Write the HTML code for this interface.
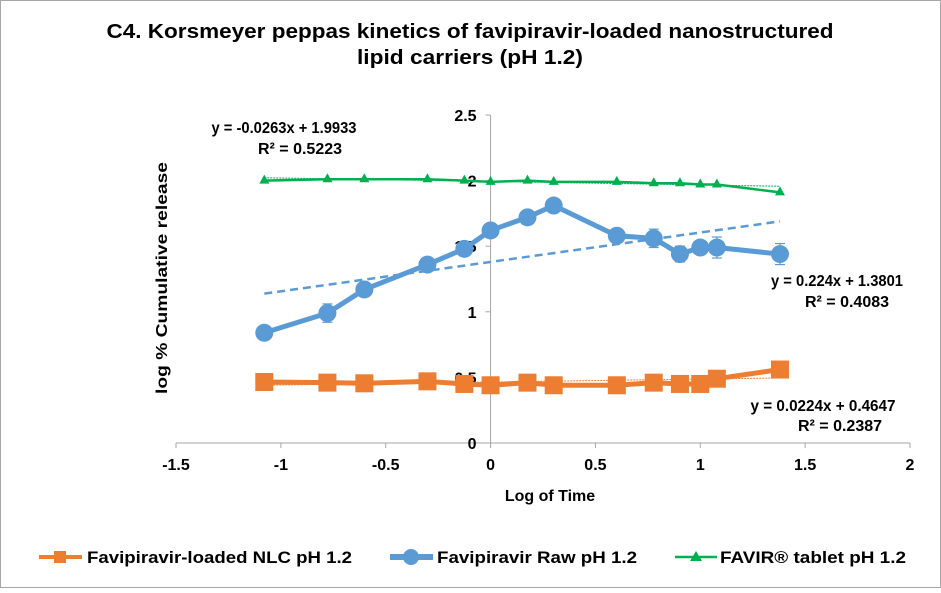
<!DOCTYPE html>
<html><head><meta charset="utf-8"><style>
body{margin:0;background:#fff}
svg text{font-family:"Liberation Sans",Arial,sans-serif;font-weight:bold}
</style></head><body>
<svg id="chart" width="941" height="588" viewBox="0 0 941 588" xmlns="http://www.w3.org/2000/svg">
<rect x="0.5" y="0.5" width="940" height="587" fill="#fff" stroke="#a6a6a6"/>
<text x="470" y="38" font-size="20" text-anchor="middle" textLength="727" lengthAdjust="spacingAndGlyphs">C4. Korsmeyer peppas kinetics of favipiravir-loaded nanostructured</text>
<text x="470" y="64" font-size="20" text-anchor="middle" textLength="226" lengthAdjust="spacingAndGlyphs">lipid carriers (pH 1.2)</text>
<g id="axes"></g>
<g id="marks"></g>
<text x="550" y="501" font-size="16" text-anchor="middle">Log of Time</text>
<text transform="translate(167,278) rotate(-90)" font-size="16" text-anchor="middle" textLength="232" lengthAdjust="spacingAndGlyphs">log % Cumulative release</text>
<g><text x="284" y="133" font-size="16" text-anchor="middle" textLength="145" lengthAdjust="spacingAndGlyphs">y = -0.0263x + 1.9933</text><text x="300" y="154" font-size="16" text-anchor="middle">R² = 0.5223</text></g>
<g><text x="837" y="286" font-size="16" text-anchor="middle" textLength="132" lengthAdjust="spacingAndGlyphs">y = 0.224x + 1.3801</text><text x="847" y="307" font-size="16" text-anchor="middle">R² = 0.4083</text></g>
<g><text x="823" y="411" font-size="16" text-anchor="middle" textLength="145" lengthAdjust="spacingAndGlyphs">y = 0.0224x + 0.4647</text><text x="840" y="431" font-size="16" text-anchor="middle">R² = 0.2387</text></g>
<g>
<g><line x1="39" y1="557" x2="82" y2="557" stroke="#ed7d31" stroke-width="4"/><rect x="54" y="551" width="12" height="12" fill="#ed7d31"/><text x="87" y="563" font-size="17" textLength="265" lengthAdjust="spacingAndGlyphs">Favipiravir-loaded NLC pH 1.2</text></g>
<g><line x1="390" y1="557" x2="433" y2="557" stroke="#5b9bd5" stroke-width="6"/><circle cx="411" cy="557" r="8" fill="#5b9bd5"/><text x="437" y="563" font-size="17" textLength="200" lengthAdjust="spacingAndGlyphs">Favipiravir Raw pH 1.2</text></g>
<g><line x1="675" y1="557" x2="717" y2="557" stroke="#00b050" stroke-width="2.5"/><polygon points="696,551 702,561 690,561" fill="#00b050"/><text x="720" y="563" font-size="17" textLength="186" lengthAdjust="spacingAndGlyphs">FAVIR® tablet pH 1.2</text></g>
</g>
</svg>
<script>
const xTicks=[-1.5,-1,-0.5,0,0.5,1,1.5,2];
const yTicks=[0,0.5,1,1.5,2,2.5];
const logTime=[-1.079,-0.778,-0.602,-0.301,-0.125,0,0.176,0.301,0.602,0.778,0.903,1,1.079,1.380];
const nlcVals=[0.465,0.46,0.455,0.47,0.45,0.44,0.46,0.44,0.44,0.46,0.45,0.45,0.49,0.56];
const rawVals=[0.84,0.99,1.17,1.36,1.48,1.62,1.72,1.81,1.58,1.56,1.44,1.49,1.49,1.44];
const rawErr=[0,0.07,0,0,0,0,0,0,0,0.07,0.06,0,0.08,0.08];
const favirVals=[2.0,2.01,2.01,2.01,2.0,1.99,2.0,1.99,1.99,1.98,1.98,1.97,1.97,1.91];
const trendBlue=[0.224,1.3801];
const trendGreen=[-0.0263,1.9933];
const trendOrange=[0.0224,0.4647];
const X=v=>176+(v+1.5)*(734/3.5);
const Y=v=>443-v*131.2;
const NS='http://www.w3.org/2000/svg';
function mk(tag,attrs,parent){const e=document.createElementNS(NS,tag);for(const k in attrs)e.setAttribute(k,attrs[k]);parent.appendChild(e);return e;}
const axes=document.getElementById('axes'),marks=document.getElementById('marks');
const xa=mk('line',{x1:X(-1.5),y1:Y(0),x2:X(2),y2:Y(0),stroke:'#a6a6a6'},axes);


const ya=mk('line',{x1:X(0),y1:Y(0),x2:X(0),y2:Y(2.5),stroke:'#a6a6a6'},axes);


xTicks.forEach(t=>{mk('line',{x1:X(t),y1:443,x2:X(t),y2:448,stroke:'#a6a6a6'},axes);
const tx=mk('text',{x:X(t),y:470,'font-size':16,'text-anchor':'middle'},axes);tx.textContent=t;

});
yTicks.forEach(t=>{mk('line',{x1:X(0)-5,y1:Y(t),x2:X(0),y2:Y(t),stroke:'#a6a6a6'},axes);
const tx=mk('text',{x:X(0)-14,y:Y(t)+6,'font-size':16,'text-anchor':'end'},axes);tx.textContent=t;

});
function trend(c,col,dash,w,name){const x0=logTime[0],x1=logTime[logTime.length-1];
const l=mk('line',{x1:X(x0),y1:Y(c[0]*x0+c[1]),x2:X(x1),y2:Y(c[0]*x1+c[1]),stroke:col,'stroke-width':w,'stroke-dasharray':dash},marks);

}
function series(vals,col,w,marker,name){const pts=logTime.map((t,i)=>X(t)+','+Y(vals[i])).join(' ');
const pl=mk('polyline',{points:pts,fill:'none',stroke:col,'stroke-width':w,'stroke-linejoin':'round'},marks);


logTime.forEach((t,i)=>{const x=X(t),y=Y(vals[i]);let m;
if(marker==='sq')m=mk('rect',{x:x-9,y:y-9,width:18,height:18,fill:col},marks);
else if(marker==='c')m=mk('circle',{cx:x,cy:y,r:9,fill:col},marks);
else m=mk('polygon',{points:`${x},${y-6} ${x+5},${y+3} ${x-5},${y+3}`,fill:col},marks);

});}
trend(trendOrange,'#ed7d31','2 1',1,'trendline-orange');
trend(trendGreen,'#00b050','2 1',1,'trendline-green');
series(favirVals,'#00b050',2.5,'tri','favir-tablet');
series(nlcVals,'#ed7d31',5,'sq','nlc');
logTime.forEach((t,i)=>{if(!rawErr[i])return;const x=X(t),a=Y(rawVals[i]+rawErr[i]),b=Y(rawVals[i]-rawErr[i]);
const g=mk('g',{stroke:'#5b9bd5','stroke-width':1.2},marks);


mk('line',{x1:x,y1:a,x2:x,y2:b},g);mk('line',{x1:x-5,y1:a,x2:x+5,y2:a},g);mk('line',{x1:x-5,y1:b,x2:x+5,y2:b},g);});
series(rawVals,'#5b9bd5',5,'c','raw');
trend(trendBlue,'#5b9bd5','8 5',2.5,'trendline-blue');
</script>
</body></html>
